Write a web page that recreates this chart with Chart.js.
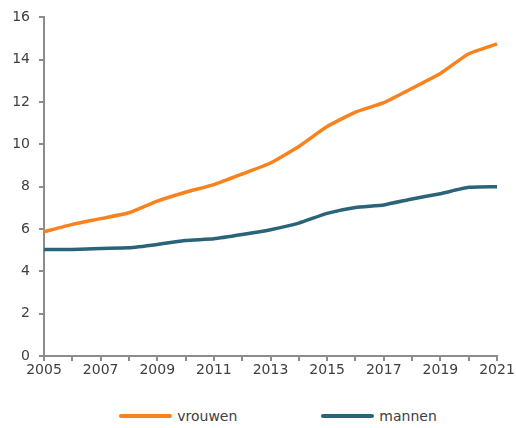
<!DOCTYPE html>
<html>
<head>
<meta charset="utf-8">
<script src="https://cdn.jsdelivr.net/npm/chart.js@4"></script>
<style>
  body { margin: 0; background: #fff; font-family: "DejaVu Sans", sans-serif; }
  #wrap { width: 516px; height: 395px; position: relative; }
  #legenda { display: flex; justify-content: center; gap: 84px; margin-top: 13px; padding-left: 40px; color: #404040; font-size: 14px; }
  .item { display: flex; align-items: center; }
  .lijn { display: inline-block; width: 53px; height: 4px; border-radius: 2px; margin-right: 5px; }
</style>
</head>
<body>
<div id="wrap"><canvas id="chart"></canvas></div>
<div id="legenda"></div>
<script>
const jaren = ["2005","2006","2007","2008","2009","2010","2011","2012","2013","2014","2015","2016","2017","2018","2019","2020","2021"]
const vrouwen = [5.87, 6.22, 6.49, 6.77, 7.32, 7.74, 8.1, 8.6, 9.12, 9.9, 10.84, 11.52, 11.97, 12.65, 13.35, 14.28, 14.75]
const mannen = [5.03, 5.03, 5.08, 5.11, 5.27, 5.46, 5.54, 5.74, 5.97, 6.28, 6.74, 7.02, 7.14, 7.42, 7.67, 7.97, 8.0]
const yTicks = [0, 2, 4, 6, 8, 10, 12, 14, 16]

const kleurVrouwen = '#f7821e'
const kleurMannen = '#2a6479'
const asKleur = '#8c8c8c'
const tekstKleur = '#404040'

const grafico = document.getElementById('chart').getContext('2d');
new Chart(grafico, {
    type: 'line',
    data: {
        labels: jaren,
        datasets: [
            { label: 'vrouwen', data: vrouwen, borderColor: kleurVrouwen, borderWidth: 3.5, pointRadius: 0, tension: 0.15 },
            { label: 'mannen', data: mannen, borderColor: kleurMannen, borderWidth: 3.5, pointRadius: 0, tension: 0.15 },
        ],
    },
    options: {
        responsive: true,
        maintainAspectRatio: false,
        animation: false,
        layout: { padding: { top: 14, right: 19, left: 0, bottom: 0 } },
        plugins: { legend: { display: false }, tooltip: { enabled: false } },
        scales: {
            x: {
                offset: false,
                grid: { drawOnChartArea: false, drawTicks: true, tickLength: 5, color: asKleur, lineWidth: 2 },
                border: { color: asKleur, width: 2 },
                ticks: {
                    autoSkip: false, maxRotation: 0, padding: 1,
                    color: tekstKleur, font: { family: 'DejaVu Sans', size: 14 },
                    callback: (v, i) => (i % 2 === 0 ? jaren[i] : ''),
                },
                afterFit: (s) => { s.height = 39 },
            },
            y: {
                min: 0, max: 16,
                afterBuildTicks: (s) => { s.ticks = yTicks.map((v) => ({ value: v })) },
                grid: { drawOnChartArea: false, drawTicks: true, tickLength: 5, color: asKleur, lineWidth: 2 },
                border: { color: asKleur, width: 2 },
                ticks: { padding: 9, color: tekstKleur, font: { family: 'DejaVu Sans', size: 14 } },
                afterFit: (s) => { s.width = 44 },
            },
        },
    },
});

// legenda onder de grafiek
const legenda = document.getElementById('legenda')
;[['vrouwen', kleurVrouwen], ['mannen', kleurMannen]].forEach(([naam, kleur]) => {
    const el = document.createElement('span')
    el.className = 'item'
    el.innerHTML = '<span class="lijn" style="background:' + kleur + '"></span>' + naam
    legenda.appendChild(el)
})
</script>
</body>
</html>
